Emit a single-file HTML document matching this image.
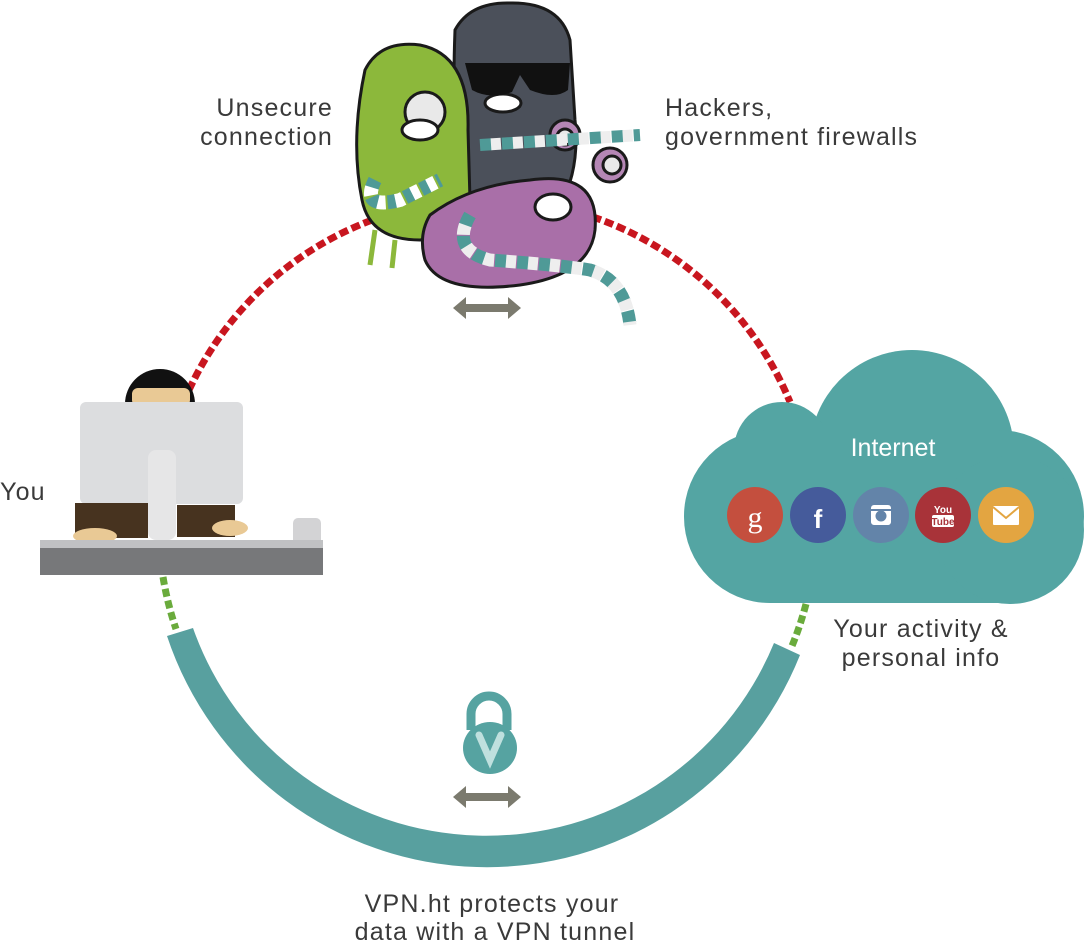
<!DOCTYPE html>
<html><head><meta charset="utf-8"><style>
html,body{margin:0;padding:0;background:#fff;}
svg{display:block}
text{font-family:"Liberation Sans",sans-serif;fill:#3a3a3a;}
</style></head><body>
<svg width="1084" height="940" viewBox="0 0 1084 940" xmlns="http://www.w3.org/2000/svg">
<path d="M189 390 A328 328 0 0 1 790 402" fill="none" stroke="#c8161f" stroke-width="7" stroke-dasharray="9 4"/>
<path d="M163 577 A328 328 0 0 0 176 629" fill="none" stroke="#6aab3c" stroke-width="7" stroke-dasharray="8 4"/>
<path d="M806 604 A328 328 0 0 1 792 646" fill="none" stroke="#6aab3c" stroke-width="7" stroke-dasharray="8 4"/>
<path d="M167 636 A337 337 0 0 0 800 655 L774 643 A311 311 0 0 1 193 628 Z" fill="#58a09f"/>

<g fill="#54a5a3">
<circle cx="912" cy="452" r="102"/>
<circle cx="782" cy="450" r="48"/>
<rect x="684" y="430" width="400" height="173" rx="86"/>
<circle cx="1010" cy="530" r="74"/>
</g>
<text x="893" y="456" text-anchor="middle" font-size="25" style="fill:#fff">Internet</text>
<circle cx="755" cy="515" r="28" fill="#c44f3e"/>
<text x="755" y="527" text-anchor="middle" font-size="30" style="fill:#fff;font-family:'Liberation Serif',serif">g</text>
<circle cx="818" cy="515" r="28" fill="#455b9b"/>
<text x="818" y="528" text-anchor="middle" font-size="26" font-weight="bold" style="fill:#fff">f</text>
<circle cx="881" cy="515" r="28" fill="#6384a9"/>
<rect x="871" y="505" width="20" height="20" rx="3" fill="#fff"/>
<circle cx="881" cy="516" r="5.5" fill="#6384a9"/>
<rect x="871" y="509" width="20" height="2" fill="#6384a9"/>
<circle cx="943" cy="515" r="28" fill="#a83339"/>
<text x="943" y="513" text-anchor="middle" font-size="10" font-weight="bold" style="fill:#fff">You</text>
<rect x="932" y="515" width="22" height="12" rx="2" fill="#fff"/>
<text x="943" y="525" text-anchor="middle" font-size="10" font-weight="bold" style="fill:#a83339">Tube</text>
<circle cx="1006" cy="515" r="28" fill="#e3a541"/>
<rect x="993" y="506" width="26" height="19" rx="1" fill="#fff"/>
<path d="M993 507 L1006 518 L1019 507" fill="none" stroke="#e3a541" stroke-width="2"/>

<path d="M125 404 A35 35 0 0 1 195 404 Z" fill="#111"/>
<rect x="132" y="388" width="58" height="18" rx="6" fill="#e9c995"/>
<rect x="80" y="402" width="163" height="102" rx="6" fill="#dcdddf"/>
<rect x="75" y="503" width="73" height="35" fill="#47331f"/>
<rect x="177" y="505" width="58" height="32" fill="#47331f"/>
<ellipse cx="95" cy="536" rx="22" ry="8" fill="#e9c995"/>
<ellipse cx="230" cy="528" rx="18" ry="8" fill="#e9c995"/>
<rect x="148" y="450" width="28" height="90" rx="8" fill="#e6e6e7"/>
<rect x="293" y="518" width="28" height="30" rx="5" fill="#d3d3d5"/>
<rect x="40" y="540" width="283" height="10" fill="#c0c1c3"/>
<rect x="40" y="548" width="283" height="27" fill="#77787a"/>

<g stroke="#1a1a1a" stroke-width="3">
<path d="M455 30 Q470 2 510 3 Q560 2 570 40 L575 120 Q580 170 560 205 L470 210 Q450 160 455 30 Z" fill="#4b505a"/>
<path d="M365 70 Q380 40 420 45 Q470 55 468 130 L470 200 Q465 235 420 240 Q370 240 362 200 Q350 140 365 70 Z" fill="#8cb83b"/>
<path d="M375 230 L370 265 M395 240 L392 268 M440 235 L445 262" stroke-width="5" fill="none" stroke="#8cb83b"/>
<path d="M430 215 Q470 185 530 180 Q600 170 595 230 Q590 275 520 285 Q440 295 425 260 Q418 235 430 215 Z" fill="#a96fa8"/>
<circle cx="610" cy="165" r="17" fill="#b586b5"/>
<circle cx="565" cy="135" r="15" fill="#b586b5"/>
<circle cx="425" cy="112" r="20" fill="#e9e9e9"/>
<circle cx="612" cy="165" r="9" fill="#e9e9e9"/>
<circle cx="565" cy="137" r="8" fill="#e9e9e9"/>
<ellipse cx="420" cy="130" rx="18" ry="10" fill="#fff"/>
<ellipse cx="503" cy="103" rx="18" ry="9" fill="#fff"/>
<ellipse cx="553" cy="207" rx="18" ry="13" fill="#fff"/>
</g>
<path d="M465 63 L570 63 L568 90 Q555 100 530 90 L520 75 L512 92 Q490 100 472 90 Z" fill="#111"/>
<path d="M375 180 Q360 210 400 200 L440 180" fill="none" stroke="#4f9a97" stroke-width="14" stroke-dasharray="10 8"/>
<path d="M375 180 Q360 210 400 200 L440 180" fill="none" stroke="#fff" stroke-width="14" stroke-dasharray="8 10" stroke-dashoffset="10"/>
<path d="M480 145 L560 140 L640 135" fill="none" stroke="#4f9a97" stroke-width="12" stroke-dasharray="12 10"/>
<path d="M480 145 L560 140 L640 135" fill="none" stroke="#eee" stroke-width="12" stroke-dasharray="10 12" stroke-dashoffset="11"/>
<path d="M470 215 Q450 250 490 260 Q560 265 590 270 Q625 280 630 325" fill="none" stroke="#4f9a97" stroke-width="13" stroke-dasharray="12 10"/>
<path d="M470 215 Q450 250 490 260 Q560 265 590 270 Q625 280 630 325" fill="none" stroke="#eee" stroke-width="13" stroke-dasharray="10 12" stroke-dashoffset="11"/>

<g fill="#7b7a6e">
<path d="M453 308 L466 297 L466 304 L508 304 L508 297 L521 308 L508 319 L508 312 L466 312 L466 319 Z"/>
<path d="M453 797 L466 786 L466 793 L508 793 L508 786 L521 797 L508 808 L508 801 L466 801 L466 808 Z"/>
</g>
<path d="M471 730 L471 714 A18 18 0 0 1 507 714 L507 730" fill="none" stroke="#56a3a1" stroke-width="9"/>
<ellipse cx="490" cy="748" rx="27" ry="26" fill="#56a3a1"/>
<path d="M479 735 L490 760 L501 735" fill="none" stroke="#bfe0de" stroke-width="7" stroke-linecap="round"/>

<g font-size="25" letter-spacing="1.2">
<text x="333" y="116" text-anchor="end">Unsecure</text>
<text x="333" y="145" text-anchor="end">connection</text>
<text x="665" y="116">Hackers,</text>
<text x="665" y="145">government firewalls</text>
<text x="0" y="500">You</text>
<text x="921" y="637" text-anchor="middle">Your activity &amp;</text>
<text x="921" y="666" text-anchor="middle">personal info</text>
<text x="492" y="912" text-anchor="middle">VPN.ht protects your</text>
<text x="495" y="940" text-anchor="middle">data with a VPN tunnel</text>
</g>
</svg>
</body></html>
